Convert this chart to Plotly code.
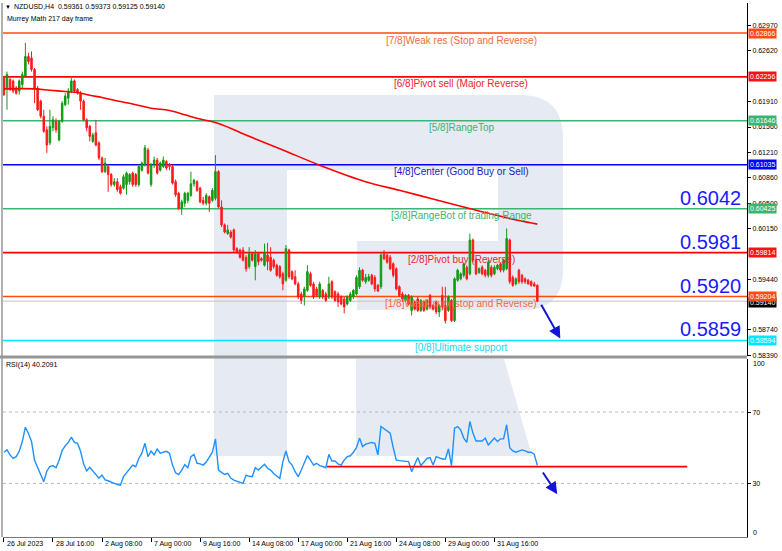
import math
import plotly.graph_objects as go

# ---------------- data ----------------
symbol = "NZDUSD,H4"
last_ohlc = [0.59361, 0.59373, 0.59125, 0.59140]
indicator_title = "Murrey Math 217 day frame"

opens = [0.6224,0.6210,0.6222,0.6220,0.6210,0.6206,0.6215,0.6227,0.6254,0.6252,
         0.6236,0.6210,0.6192,0.6171,0.6152,0.6134,0.6155,0.6164,0.6138,0.6164,
         0.6187,0.6196,0.6206,0.6220,0.6208,0.6203,0.6192,0.6166,0.6157,0.6136,
         0.6148,0.6134,0.6113,0.6094,0.6101,0.6090,0.6076,0.6080,0.6073,0.6071,
         0.6076,0.6080,0.6092,0.6090,0.6076,0.6096,0.6104,0.6124,0.6076,0.6104,
         0.6110,0.6096,0.6101,0.6108,0.6104,0.6101,0.6080,0.6064,0.6043,0.6050,
         0.6054,0.6061,0.6077,0.6080,0.6071,0.6054,0.6050,0.6059,0.6054,0.6057,
         0.6094,0.6045,0.6020,0.6008,0.6010,0.6013,0.5987,0.5985,0.5985,0.5975,
         0.5962,0.5980,0.5962,0.5980,0.5973,0.5964,0.5978,0.5975,0.5971,0.5964,
         0.5962,0.5952,0.5943,0.5985,0.5955,0.5948,0.5938,0.5924,0.5920,0.5929,
         0.5952,0.5938,0.5931,0.5920,0.5929,0.5924,0.5920,0.5941,0.5927,0.5924,
         0.5920,0.5917,0.5910,0.5915,0.5920,0.5924,0.5934,0.5957,0.5941,0.5943,
         0.5950,0.5947,0.5936,0.5934,0.5980,0.5978,0.5975,0.5966,0.5959,0.5934,
         0.5924,0.5915,0.5922,0.5901,0.5913,0.5917,0.5901,0.5913,0.5903,0.5922,
         0.5908,0.5913,0.5899,0.5922,0.5908,0.5901,0.5915,0.5887,0.5943,0.5945,
         0.5950,0.5961,0.5952,0.5999,0.5971,0.5954,0.5961,0.5957,0.5950,0.5961,
         0.5952,0.5959,0.5966,0.5957,0.5959,0.5999,0.5947,0.5938,0.5957,0.5950,
         0.5945,0.5943,0.5941,0.5938,0.59361]
highs = [0.6227,0.6233,0.6224,0.6222,0.6213,0.6222,0.6233,0.6273,0.6259,0.6261,
         0.6238,0.6213,0.6194,0.6180,0.6157,0.6180,0.6171,0.6168,0.6166,0.6192,
         0.6203,0.6210,0.6224,0.6222,0.6210,0.6206,0.6194,0.6168,0.6159,0.6148,
         0.6166,0.6136,0.6115,0.6113,0.6104,0.6092,0.6085,0.6085,0.6076,0.6090,
         0.6094,0.6092,0.6094,0.6092,0.6104,0.6108,0.6131,0.6127,0.6106,0.6115,
         0.6113,0.6108,0.6115,0.6110,0.6106,0.6104,0.6083,0.6066,0.6055,0.6066,
         0.6066,0.6094,0.6084,0.6082,0.6073,0.6059,0.6064,0.6061,0.6071,0.6117,
         0.6096,0.6054,0.6022,0.6020,0.6013,0.6015,0.5989,0.5987,0.5989,0.5978,
         0.5989,0.5982,0.5985,0.5982,0.5975,0.5994,0.5995,0.5989,0.5973,0.5966,
         0.5964,0.5955,0.5992,0.5987,0.5957,0.5957,0.5941,0.5927,0.5934,0.5964,
         0.5955,0.5941,0.5934,0.5941,0.5931,0.5927,0.5948,0.5943,0.5929,0.5927,
         0.5922,0.5920,0.5922,0.5927,0.5931,0.5950,0.5961,0.5959,0.5952,0.5952,
         0.5952,0.5950,0.5938,0.5982,0.5985,0.5980,0.5978,0.5968,0.5961,0.5936,
         0.5927,0.5924,0.5924,0.5922,0.5915,0.5920,0.5917,0.5915,0.5917,0.5924,
         0.5910,0.5915,0.5910,0.5934,0.5934,0.5922,0.5917,0.5947,0.5959,0.5954,
         0.5968,0.5964,0.6008,0.6001,0.5973,0.5961,0.5964,0.5959,0.5971,0.5964,
         0.5964,0.5966,0.5968,0.5973,0.6015,0.6001,0.5950,0.5947,0.5959,0.5952,
         0.5947,0.5945,0.5943,0.5941,0.59373]
lows = [0.6199,0.6180,0.6206,0.6203,0.6201,0.6201,0.6210,0.6224,0.6243,0.6233,
        0.6189,0.6178,0.6168,0.6148,0.6120,0.6131,0.6150,0.6148,0.6136,0.6162,
        0.6185,0.6187,0.6203,0.6203,0.6201,0.6180,0.6164,0.6150,0.6136,0.6134,
        0.6129,0.6110,0.6092,0.6092,0.6066,0.6073,0.6073,0.6066,0.6062,0.6069,
        0.6062,0.6076,0.6073,0.6073,0.6073,0.6094,0.6101,0.6090,0.6073,0.6099,
        0.6090,0.6094,0.6099,0.6096,0.6096,0.6076,0.6059,0.6041,0.6034,0.6045,
        0.6050,0.6059,0.6073,0.6066,0.6050,0.6047,0.6047,0.6038,0.6052,0.6054,
        0.6043,0.6017,0.6008,0.6006,0.6001,0.5982,0.5980,0.5973,0.5969,0.5955,
        0.5959,0.5969,0.5943,0.5964,0.5969,0.5962,0.5957,0.5955,0.5959,0.5948,
        0.5945,0.5929,0.5941,0.5945,0.5943,0.5936,0.5917,0.5910,0.5908,0.5927,
        0.5934,0.5917,0.5920,0.5917,0.5917,0.5913,0.5917,0.5917,0.5913,0.5906,
        0.5908,0.5897,0.5908,0.5913,0.5917,0.5922,0.5931,0.5941,0.5938,0.5941,
        0.5936,0.5927,0.5927,0.5931,0.5971,0.5966,0.5957,0.5947,0.5929,0.5920,
        0.5913,0.5913,0.5908,0.5894,0.5901,0.5899,0.5899,0.5899,0.5901,0.5903,
        0.5901,0.5896,0.5892,0.5901,0.5883,0.5899,0.5885,0.5885,0.5941,0.5943,
        0.5947,0.5943,0.5950,0.5968,0.5950,0.5952,0.5950,0.5947,0.5947,0.5947,
        0.5950,0.5957,0.5954,0.5954,0.5957,0.5938,0.5934,0.5936,0.5938,0.5938,
        0.5938,0.5937,0.5934,0.5934,0.59125]
closes = [0.6201,0.6229,0.6208,0.6206,0.6203,0.6220,0.6229,0.6254,0.6247,0.6236,
          0.6210,0.6180,0.6171,0.6150,0.6131,0.6157,0.6166,0.6152,0.6164,0.6189,
          0.6199,0.6206,0.6220,0.6206,0.6203,0.6192,0.6166,0.6155,0.6143,0.6145,
          0.6131,0.6113,0.6094,0.6106,0.6090,0.6076,0.6080,0.6069,0.6064,0.6087,
          0.6092,0.6090,0.6076,0.6076,0.6101,0.6106,0.6127,0.6092,0.6104,0.6110,
          0.6092,0.6106,0.6110,0.6099,0.6101,0.6078,0.6062,0.6043,0.6052,0.6064,
          0.6064,0.6077,0.6082,0.6068,0.6052,0.6050,0.6061,0.6050,0.6068,0.6094,
          0.6045,0.6020,0.6010,0.6013,0.6003,0.5985,0.5982,0.5975,0.5971,0.5959,
          0.5980,0.5971,0.5980,0.5969,0.5971,0.5982,0.5969,0.5957,0.5962,0.5950,
          0.5948,0.5938,0.5987,0.5948,0.5945,0.5938,0.5920,0.5915,0.5931,0.5955,
          0.5936,0.5920,0.5922,0.5938,0.5920,0.5915,0.5938,0.5920,0.5915,0.5913,
          0.5910,0.5906,0.5920,0.5924,0.5929,0.5947,0.5957,0.5943,0.5947,0.5948,
          0.5938,0.5931,0.5928,0.5978,0.5973,0.5968,0.5959,0.5950,0.5931,0.5922,
          0.5917,0.5922,0.5910,0.5920,0.5903,0.5901,0.5915,0.5901,0.5915,0.5906,
          0.5903,0.5899,0.5908,0.5906,0.5887,0.5920,0.5887,0.5945,0.5957,0.5952,
          0.5966,0.5945,0.5999,0.5971,0.5952,0.5959,0.5952,0.5950,0.5968,0.5950,
          0.5961,0.5964,0.5957,0.5971,0.6001,0.5941,0.5936,0.5945,0.5941,0.5941,
          0.5941,0.5938,0.5936,0.5935,0.59140]

rsi_name = "RSI(14)"
rsi_values = [47.5,48.8,46,44,45,48,53.5,61.5,58,53.5,
              43,39,35.5,31,37,39.5,40,38.8,43,48.5,
              51,53,56,53,52.5,48,41,37,39,37,
              35,33,34.7,32,31.5,30.6,30,29.4,29,33.8,
              36,38,40.3,39.4,44,47,52.5,45,48.2,46,
              49.3,46.9,47.5,48,47,40.3,36,35,37.5,40.5,
              38.8,45,46.3,41.3,41,40.3,42,45,47.5,55,
              37.5,36.2,35,35.6,33,31.9,31.3,30.8,30,34.7,
              34,33.8,38.8,37.5,39,40.7,38.5,37.5,35.6,34,
              32.8,42.2,48.2,42.2,40.3,36.6,33.8,37.5,42,45.6,
              43.1,40.3,41.3,40,39.5,38.8,46.3,42.6,42.6,40.9,
              40.3,43.1,45,45.5,47.5,50,55.4,50.7,52,52.5,
              53,52.5,46,61.9,60.6,59.5,58.2,50,43.1,42.8,
              42.6,42.4,42.2,36.6,40.3,44.5,40,42,44,44.5,
              40.3,45,44.5,43.7,43.7,49.3,40,61,61.9,60,
              55.4,53,64.7,58.2,53.8,53.8,53.8,55.4,51.6,53.5,
              55.4,53.5,55,55,62.9,50,48.2,47.5,48,48.8,
              48.2,47.5,47.5,46.3,40.2091]

ma_bars = [0, 10, 15, 21, 24, 28, 32, 37, 42, 48, 54, 59, 64, 70, 80, 91, 103, 118, 129, 139, 149, 159, 168, 174]
ma_values = [0.6209, 0.6209, 0.6207, 0.6205, 0.6204, 0.6200, 0.6197, 0.6192, 0.6188, 0.6182, 0.6179,
             0.6173, 0.6167, 0.6161, 0.6143, 0.6124, 0.6103, 0.6080, 0.6068, 0.6057, 0.6046, 0.6035,
             0.6026, 0.6021]

tick_bars = [0, 16, 32, 48, 64, 80, 96, 112, 128, 144, 160]
tick_labels = ["26 Jul 2023", "28 Jul 16:00", "2 Aug 08:00", "7 Aug 00:00", "9 Aug 16:00",
               "14 Aug 08:00", "17 Aug 00:00", "21 Aug 16:00", "24 Aug 08:00",
               "29 Aug 00:00", "31 Aug 16:00"]

# visible price-scale ticks (those hidden under level tags are omitted)
price_ticks = [0.6297, 0.6262, 0.6191, 0.6156, 0.6121, 0.6086, 0.6050,
               0.6015, 0.5944, 0.5874, 0.5839]

level_names = ["[7/8]Weak res (Stop and Reverse)", "[6/8]Pivot sell (Major Reverse)",
               "[5/8]RangeTop", "[4/8]Center (Good Buy or Sell)",
               "[3/8]RangeBot of trading Range", "[2/8]Pivot buy (Reverse)",
               "[1/8]Weak sup (stop and Reverse)", "[0/8]Ultimate support"]
level_values = [0.62866, 0.62256, 0.61646, 0.61035, 0.60425, 0.59814, 0.59204, 0.58594]
marked_levels = [0.60425, 0.59814, 0.59204, 0.58594]

rsi_support_value = 39.4
rsi_support_from_bar = 105.4
rsi_support_to_bar = 222.9

# forecast arrows: (tail bar, tail value, head bar, head value)
price_arrow = [175.0, 0.5911, 181.5, 0.5862]
rsi_arrow = [175.5, 37.0, 180.5, 24.0]

# ---------------- styling / layout ----------------
W, H = 782, 551
ML, MR, MT, MB = 3, 35, 3, 14
FONT = "Liberation Sans, Arial, sans-serif"
level_colors = ["#ff4a10", "#ff0000", "#3cb371", "#0000ff", "#3cb371", "#ff0000", "#ff4a10", "#00e8ff"]
label_colors = ["#f26a3a", "#e8262a", "#3cb371", "#1c1cb8", "#3cb371", "#e8262a", "#f26a3a", "#20d8f0"]
tag_bg = ["#ff4a10", "#ff1010", "#3cb371", "#0000ff", "#3cb371", "#ff1010", "#ff4a10", "#00e8ff"]


def px(x):
    return (x - ML) / (W - ML - MR)


def py(y):
    return (H - MB - y) / (H - MT - MB)


bars = list(range(len(closes)))
xr = [-0.3, 242.4]

fig = go.Figure()

fig.add_trace(go.Candlestick(
    x=bars, open=opens, high=highs, low=lows, close=closes,
    increasing=dict(line=dict(color="#139a13", width=1), fillcolor="#139a13"),
    decreasing=dict(line=dict(color="#ff1a1a", width=1), fillcolor="#ff1a1a"),
    whiskerwidth=0, xaxis="x", yaxis="y", showlegend=False, hoverinfo="skip"))

fig.add_trace(go.Scatter(
    x=ma_bars, y=ma_values, mode="lines", xaxis="x", yaxis="y",
    line=dict(color="#ff0000", width=1.6, shape="spline"), showlegend=False, hoverinfo="skip"))

fig.add_trace(go.Scatter(
    x=bars, y=rsi_values, mode="lines", xaxis="x2", yaxis="y2",
    line=dict(color="#1e90ff", width=1.4), showlegend=False, hoverinfo="skip"))

shapes = []
logo = "rgb(229,234,243)"


def P(x, y):
    return f"{px(x):.5f},{py(y):.5f}"


# watermark logo (background)
shapes.append(dict(type="rect", xref="paper", yref="paper", x0=px(214), x1=px(287), y0=py(456), y1=py(95),
                   fillcolor=logo, line=dict(width=0), layer="below"))
shapes.append(dict(type="rect", xref="paper", yref="paper", x0=px(287), x1=px(520), y0=py(170), y1=py(95),
                   fillcolor=logo, line=dict(width=0), layer="below"))
shapes.append(dict(type="path", xref="paper", yref="paper",
                   path=f"M {P(498,95)} L {P(520,95)} Q {P(563,95)} {P(563,138)} L {P(563,270)} "
                        f"Q {P(563,310)} {P(523,310)} L {P(498,310)} Z",
                   fillcolor=logo, line=dict(width=0), layer="below"))
shapes.append(dict(type="rect", xref="paper", yref="paper", x0=px(357), x1=px(520), y0=py(310), y1=py(241),
                   fillcolor=logo, line=dict(width=0), layer="below"))
shapes.append(dict(type="path", xref="paper", yref="paper",
                   path=f"M {P(356,359)} L {P(504,359)} L {P(532,456)} L {P(356,456)} Z",
                   fillcolor=logo, line=dict(width=0), layer="below"))

# current price line
shapes.append(dict(type="line", xref="paper", yref="y", x0=0, x1=1, y0=last_ohlc[3], y1=last_ohlc[3],
                   line=dict(color="rgb(195,195,195)", width=1), layer="below"))
# Murrey levels
for v, c in zip(level_values, level_colors):
    shapes.append(dict(type="line", xref="paper", yref="y", x0=0, x1=1, y0=v, y1=v,
                       line=dict(color=c, width=1.6), layer="below"))
# RSI guides
for g in (70, 30):
    shapes.append(dict(type="line", xref="paper", yref="y2", x0=0, x1=1, y0=g, y1=g,
                       line=dict(color="rgb(185,185,185)", width=1, dash="dot"), layer="below"))
shapes.append(dict(type="line", xref="x2", yref="y2", x0=rsi_support_from_bar, x1=rsi_support_to_bar,
                   y0=rsi_support_value, y1=rsi_support_value, line=dict(color="#ff0000", width=1.6)))
# frame
shapes.append(dict(type="rect", xref="paper", yref="paper", x0=px(0), x1=px(747), y0=py(358.5), y1=py(355.5),
                   fillcolor="rgb(150,150,150)", line=dict(width=0)))
shapes.append(dict(type="line", xref="paper", yref="paper", x0=px(2), x1=px(2), y0=py(537), y1=py(3),
                   line=dict(color="rgb(150,150,150)", width=1.5)))

ann = []
small = dict(family=FONT, size=7, color="#000000")
ann.append(dict(xref="paper", yref="paper", x=px(3), y=py(2), xanchor="left", yanchor="top",
                text="▼", showarrow=False, font=dict(family=FONT, size=6, color="#000")))
ann.append(dict(xref="paper", yref="paper", x=px(12), y=py(1), xanchor="left", yanchor="top",
                text=symbol + "  " + " ".join(f"{v:.5f}" for v in last_ohlc), showarrow=False, font=small))
ann.append(dict(xref="paper", yref="paper", x=px(5), y=py(13), xanchor="left", yanchor="top",
                text=indicator_title, showarrow=False, font=small))
ann.append(dict(xref="paper", yref="paper", x=px(4), y=py(359), xanchor="left", yanchor="top",
                text=f"{rsi_name} {rsi_values[-1]:.4f}", showarrow=False, font=small))

# level labels
for name, v, c in zip(level_names, level_values, label_colors):
    ann.append(dict(xref="paper", yref="y", x=px(461), y=v, yshift=-7, xanchor="center", yanchor="middle",
                    text=name, showarrow=False, font=dict(family=FONT, size=10, color=c)))

# big blue marks
for v in marked_levels:
    ann.append(dict(xref="paper", yref="y", x=px(743), y=v, yshift=11, xanchor="right", yanchor="middle",
                    text=f"{math.floor(v * 10000 + 1e-6) / 10000:.4f}", showarrow=False,
                    font=dict(family=FONT, size=20, color="#1a1aff")))

# right price tags
ann.append(dict(xref="paper", yref="y", x=1, xshift=1, y=last_ohlc[3], yshift=-1, xanchor="left", yanchor="middle",
                text=f"{last_ohlc[3]:.5f}", showarrow=False, bgcolor="#000000", borderpad=1,
                font=dict(family=FONT, size=7, color="#ffffff")))
for v, c in zip(level_values, tag_bg):
    ann.append(dict(xref="paper", yref="y", x=1, xshift=1, y=v, xanchor="left", yanchor="middle",
                    text=f"{v:.5f}", showarrow=False, bgcolor=c, borderpad=1,
                    font=dict(family=FONT, size=7, color="#ffffff")))

# RSI scale ends
ann.append(dict(xref="paper", yref="y2", x=1, xshift=4, y=100, yshift=-5, xanchor="left", yanchor="middle",
                text="100", showarrow=False, font=small))
ann.append(dict(xref="paper", yref="y2", x=1, xshift=4, y=0, yshift=5, xanchor="left", yanchor="middle",
                text="0", showarrow=False, font=small))

# time labels (left-aligned at their tick)
for b, t in zip(tick_bars, tick_labels):
    ann.append(dict(xref="x2", yref="paper", x=b, y=0, xshift=1, yshift=-1, xanchor="left", yanchor="top",
                    text=t, showarrow=False, font=small))

# forecast arrows
ann.append(dict(xref="x", yref="y", axref="x", ayref="y", x=price_arrow[2], y=price_arrow[3],
                ax=price_arrow[0], ay=price_arrow[1], text="", showarrow=True, arrowhead=2,
                arrowsize=1.2, arrowwidth=2, arrowcolor="#1414d8"))
ann.append(dict(xref="x2", yref="y2", axref="x2", ayref="y2", x=rsi_arrow[2], y=rsi_arrow[3],
                ax=rsi_arrow[0], ay=rsi_arrow[1], text="", showarrow=True, arrowhead=2,
                arrowsize=1.2, arrowwidth=2, arrowcolor="#1414d8"))

fig.update_layout(
    width=W, height=H, margin=dict(l=ML, r=MR, t=MT, b=MB),
    paper_bgcolor="#ffffff", plot_bgcolor="#ffffff",
    showlegend=False, hovermode=False,
    font=dict(family=FONT, size=7, color="#000"),
    xaxis=dict(domain=[0, 1], range=xr, anchor="y", showticklabels=False, ticks="", showgrid=False,
               zeroline=False, showline=False, rangeslider=dict(visible=False)),
    xaxis2=dict(domain=[0, 1], range=xr, anchor="y2", tickvals=tick_bars, showticklabels=False,
                ticks="outside", ticklen=4, tickcolor="#000", showgrid=False, zeroline=False,
                showline=True, linecolor="rgb(120,120,120)", linewidth=1),
    yaxis=dict(domain=[py(355.5), 1], range=[0.58385, 0.63283], side="right", anchor="x",
               tickvals=price_ticks, ticktext=[f"{v:.5f}" for v in price_ticks],
               ticks="outside", ticklen=3, tickcolor="#000", tickfont=small,
               showgrid=False, zeroline=False, showline=True, linecolor="#000", linewidth=1),
    yaxis2=dict(domain=[0, py(358.5)], range=[0, 100], side="right", anchor="x2",
                tickvals=[30, 70], ticktext=["30", "70"], ticks="outside", ticklen=3, tickcolor="#000",
                tickfont=small, showgrid=False, zeroline=False, showline=True, linecolor="#000", linewidth=1),
    shapes=shapes, annotations=ann,
)

fig.write_html("out.html", config={"displayModeBar": False},
               post_script="document.body.style.margin='0';document.body.style.padding='0';")
